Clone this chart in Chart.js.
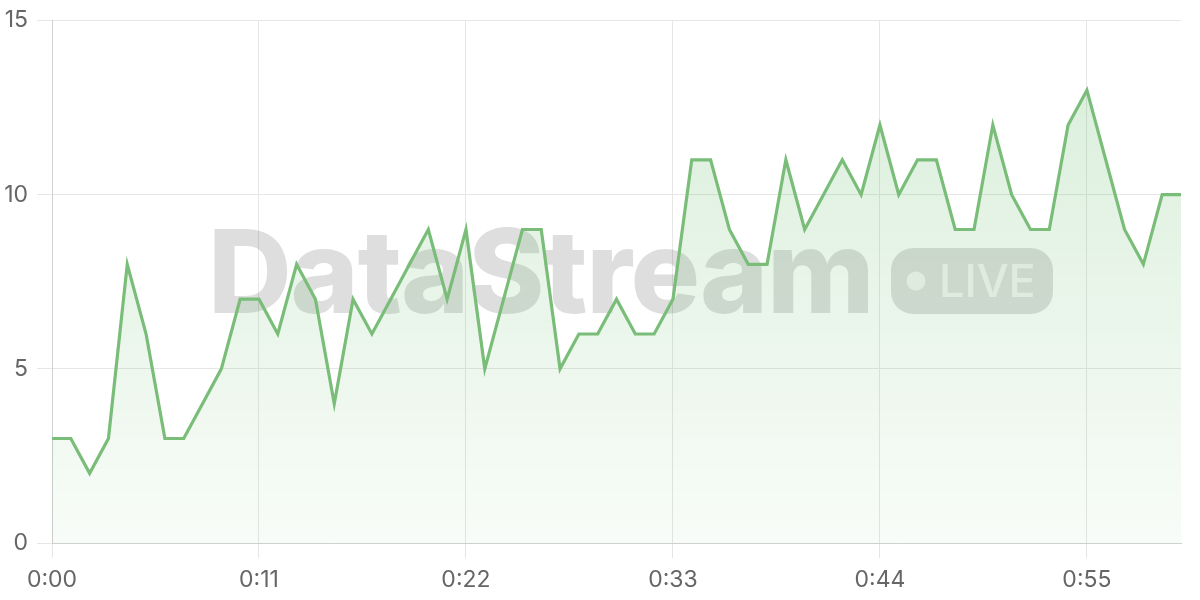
<!DOCTYPE html>
<html>
<head>
<meta charset="utf-8">
<script src="https://cdn.jsdelivr.net/npm/chart.js@4.4.1/dist/chart.umd.min.js"></script>
<style>
  html, body { margin: 0; padding: 0; background: #fff; }
  #wrap { width: 1200px; height: 600px; }
</style>
</head>
<body>
<div id="wrap"><canvas id="live"></canvas></div>
<script>
// seconds elapsed, one sample per second
const seconds = [];
for (let s = 0; s <= 60; s++) seconds.push(s);
const timeLabels = seconds.map(s => Math.floor(s / 60) + ":" + String(s % 60).padStart(2, "0"));

const eventCounts = [
  3, 3, 2, 3, 8, 6, 3, 3, 4, 5,
  7, 7, 6, 8, 7, 4, 7, 6, 7, 8,
  9, 7, 9, 5, 7, 9, 9, 5, 6, 6,
  7, 6, 6, 7, 11, 11, 9, 8, 8, 11,
  9, 10, 11, 10, 12, 10, 11, 11, 9, 9,
  12, 10, 9, 9, 12, 13, 11, 9, 8, 10,
  10
];

const yTicks = [0, 5, 10, 15];
const labelEvery = 11;

Chart.defaults.font.family = "Inter, 'Noto Sans', sans-serif";

// watermark behind the line
const watermark = {
  id: "watermark",
  beforeDatasetsDraw(chart) {
    const ctx = chart.ctx;
    ctx.save();
    ctx.fillStyle = "rgba(0,0,0,0.13)";
    ctx.font = "800 116px Inter, 'Liberation Sans', sans-serif";
    ctx.letterSpacing = "-1.3px";
    ctx.textBaseline = "alphabetic";
    ctx.textAlign = "left";
    ctx.fillText("DataStream", 208, 313);
    ctx.letterSpacing = "0px";

    // LIVE badge
    const bx = 891, by = 248, bw = 162, bh = 66, r = 22;
    ctx.beginPath();
    ctx.roundRect(bx, by, bw, bh, r);
    ctx.fill();
    ctx.fillStyle = "rgba(255,255,255,0.65)";
    ctx.beginPath();
    ctx.arc(916, 281, 9.5, 0, Math.PI * 2);
    ctx.fill();
    ctx.font = "500 45px Inter, 'Liberation Sans', sans-serif";
    ctx.fillText("LIVE", 939, 297);
    ctx.restore();
  }
};

const ctx = document.getElementById("live").getContext("2d");

new Chart(ctx, {
  type: "line",
  data: {
    labels: timeLabels,
    datasets: [{
      label: "events",
      data: eventCounts,
      borderColor: "#79bd79",
      borderWidth: 3.2,
      pointRadius: 0,
      tension: 0,
      fill: "origin",
      backgroundColor: c => {
        const area = c.chart.chartArea;
        if (!area) return "rgba(76,175,80,0.1)";
        const g = c.chart.ctx.createLinearGradient(0, area.top, 0, area.bottom);
        g.addColorStop(0, "rgba(76,175,80,0.22)");
        g.addColorStop(1, "rgba(76,175,80,0.04)");
        return g;
      }
    }]
  },
  options: {
    responsive: true, maintainAspectRatio: false,
    animation: false,
    layout: { padding: { top: 0, right: 19, left: 0, bottom: -3 } },
    plugins: { legend: { display: false }, tooltip: { enabled: false } },
    scales: {
      x: {
        offset: false,
        grid: { color: "#e6e6e6", tickLength: 15 },
        border: { color: "#d0d0d0" },
        ticks: {
          autoSkip: false, maxRotation: 0,
          color: "#666", font: { size: 23, lineHeight: 1 }, padding: 11,
          callback: (v, i) => (i % labelEvery === 0 ? timeLabels[i] : null)
        }
      },
      y: {
        min: yTicks[0], max: yTicks[yTicks.length - 1],
        grid: { color: "#e6e6e6", tickLength: 15 },
        border: { color: "#d0d0d0" },
        afterBuildTicks: axis => { axis.ticks = yTicks.map(v => ({ value: v })); },
        afterFit: axis => { axis.width = 52; },
        ticks: { color: "#666", font: { size: 23, lineHeight: 1 }, padding: 9 }
      }
    }
  },
  plugins: [watermark]
});
</script>
</body>
</html>
